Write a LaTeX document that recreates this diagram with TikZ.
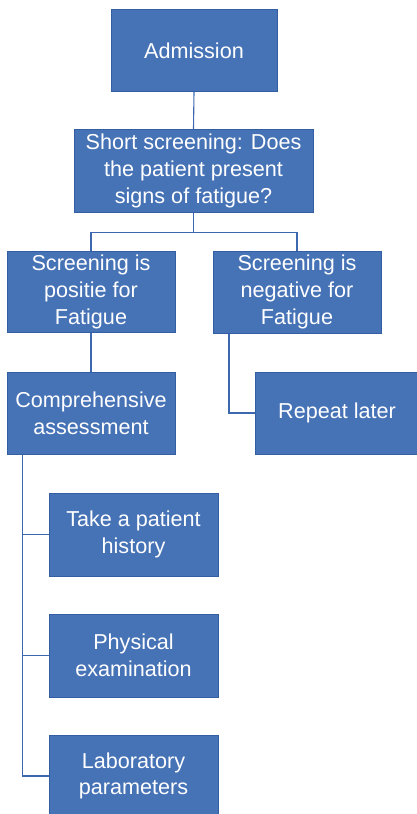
\documentclass[tikz,border=0pt]{standalone}
\usepackage{fontspec}
\setmainfont{Liberation Sans}
\usetikzlibrary{calc}
\definecolor{boxfill}{RGB}{70,114,182}
\definecolor{boxline}{RGB}{52,94,164}
\definecolor{wire}{RGB}{60,104,176}
\begin{document}
\begin{tikzpicture}[x=1pt,y=-1pt,
  stepbox/.style={draw=boxline,line width=1pt,fill=boxfill,text=white,
    align=center,inner sep=0pt,
    font=\fontsize{21.6}{26.7}\selectfont},
  link/.style={draw=wire,line width=1.1pt}]
\useasboundingbox (0,0) rectangle (417,814);
% boxes
\node[stepbox,minimum width=166pt,minimum height=82pt] (adm) at (194,50.5) {Admission};
\node[stepbox,minimum width=239pt,minimum height=83pt] (scr) at (193.5,171) {Short screening: Does\\the patient present\\signs of fatigue?};
\node[stepbox,minimum width=168pt,minimum height=81pt] (pos) at (91,292) {Screening is\\positie for\\Fatigue};
\node[stepbox,minimum width=168pt,minimum height=82pt] (neg) at (297,292) {Screening is\\negative for\\Fatigue};
\node[stepbox,minimum width=168pt,minimum height=82pt] (comp) at (91,413) {Comprehensive\\assessment};
\node[stepbox,minimum width=164pt,minimum height=82pt] (rep) at (337,413) {Repeat later};
\node[stepbox,minimum width=169pt,minimum height=83pt] (hist) at (133.5,534.5) {Take a patient\\history};
\node[stepbox,minimum width=169pt,minimum height=83pt] (phys) at (133.5,655.5) {Physical\\examination};
\node[stepbox,minimum width=169pt,minimum height=82pt] (lab) at (133.5,776) {Laboratory\\parameters};
% connectors
\coordinate (fork) at (193.5,232.7);
\coordinate (negdrop) at ($(neg.south west)+(16.5,0)$);
\coordinate (compdrop) at ($(comp.south west)+(16,0)$);
\draw[link] (adm.south) -- (scr.north);
\draw[link] (scr.south) -- (fork);
\draw[link] (pos.north) |- (fork) -| (neg.north);
\draw[link] (pos.south) -- (comp.north);
\draw[link] (negdrop) |- (rep.west);
\draw[link] (compdrop) |- (lab.west);
\draw[link] (compdrop) |- (hist.west);
\draw[link] (compdrop) |- (phys.west);
\end{tikzpicture}
\end{document}
